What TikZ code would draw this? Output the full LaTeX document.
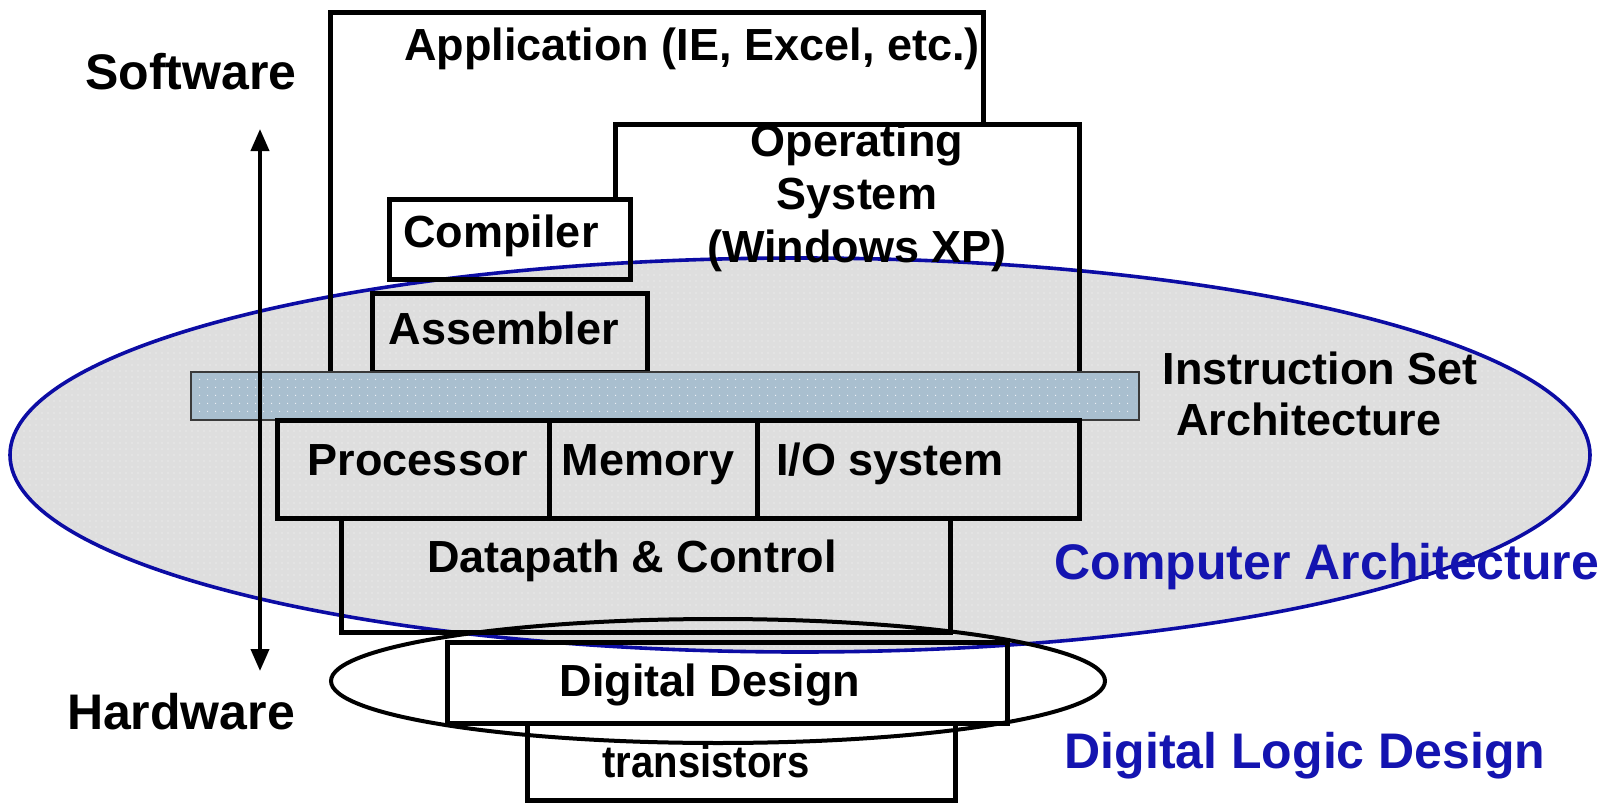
\documentclass[tikz,border=0pt]{standalone}
\usepackage{fontspec}
\setmainfont{Liberation Sans}
\usetikzlibrary{shapes.geometric,arrows.meta,patterns.meta}
\definecolor{archblue}{HTML}{0C0CA4}
\definecolor{labelblue}{HTML}{1414B0}
\definecolor{archgray}{HTML}{DEDEDE}
\definecolor{isafill}{HTML}{A9BFCF}
\definecolor{isaedge}{HTML}{3A3A3A}
\tikzset{
  layerbox/.style={draw=black, line width=2.5pt, inner sep=0pt, outer sep=0pt, rectangle},
  boxtext/.style={inner sep=0pt, font=\fontsize{22.5}{26.5}\selectfont\bfseries, align=center},
  sidetext/.style={inner sep=0pt, font=\fontsize{25}{30}\selectfont\bfseries},
  bluetext/.style={sidetext, text=labelblue},
}
\begin{document}
\begin{tikzpicture}[x=0.5pt, y=-0.5pt]
\useasboundingbox (0,0) rectangle (1619,803);

% large architecture ellipse, with a light speckle over the grey
\node[ellipse, fill=archgray, inner sep=0pt,
      minimum width=790pt, minimum height=197pt] (arch) at (800,455) {};
\fill[pattern={Dots[radius=0.3pt, distance=3pt]}, pattern color=white!70!archgray]
  (800,455) ellipse [x radius=393pt, y radius=96.5pt];
\draw[archblue, line width=1.8pt] (800,455) ellipse [x radius=395pt, y radius=98.5pt];
% small digital-logic ellipse
\node[ellipse, draw=black, line width=2pt, inner sep=0pt,
      minimum width=387pt, minimum height=62pt] (logic) at (718,681) {};

% software layers
\node[inner sep=0pt, outer sep=0pt, minimum width=326.5pt, minimum height=180pt] (app) at (656.5,192) {};
\node[boxtext] (apptxt) at (692,49) {Application (IE, Excel, etc.)};
\node[boxtext] (ostxt) at (857,198) {Operating\\System\\(Windows XP)};
\node[layerbox, minimum width=120.5pt, minimum height=40pt] (comp) at (509.5,239) {};
\node[inner sep=0pt, outer sep=0pt, minimum width=232pt, minimum height=124pt] (os) at (847,248) {};
\draw[line width=2.5pt] (app.south west) -- (app.north west) -- (app.north east) -- (app.north east |- os.north);
\draw[line width=2.5pt] (os.north west |- comp.north) -- (os.north west) -- (os.north east) -- (os.south east);
\node[boxtext] (comptxt) at (501,236) {Compiler};
\node[layerbox, minimum width=137.5pt, minimum height=39.5pt] (asm) at (509.5,332.5) {};
\node[boxtext] (asmtxt) at (504,328) {Assembler};

% instruction set bar
\node[rectangle, fill=isafill, draw=isaedge, line width=0.8pt, inner sep=0pt, outer sep=0pt,
      minimum width=474pt, minimum height=24pt] (isa) at (665,396) {};
\fill[pattern={Dots[radius=0.35pt, distance=4pt]}, pattern color=white!85!isafill]
  ([shift={(2pt,-2pt)}]isa.north west) rectangle ([shift={(-2pt,2pt)}]isa.south east);
\node[boxtext] (isatxtA) at (1320,368) {Instruction Set};
\node[boxtext] (isatxtB) at (1309,419) {Architecture};

% hardware layers
\node[layerbox, minimum width=136pt, minimum height=49pt] (proc) at (413,469) {};
\node[layerbox, minimum width=104pt, minimum height=49pt] (mem) at (653,469) {};
\node[layerbox, minimum width=161pt, minimum height=49pt] (io) at (918,469) {};
\node[boxtext, anchor=base] (proctxt) at (418,475) {Processor};
\node[boxtext, anchor=base] (memtxt) at (648,475) {Memory};
\node[boxtext, anchor=base] (iotxt) at (890,475) {I/O system};
\node[layerbox, minimum width=304.5pt, minimum height=57pt] (dp) at (645.5,575) {};
\node[boxtext] (dptxt) at (632,561) {Datapath \& Control};
\node[layerbox, minimum width=280pt, minimum height=40.5pt] (dd) at (727,682.5) {};
\node[boxtext] (ddtxt) at (710,685) {Digital Design};
\node[layerbox, minimum width=214pt, minimum height=38.5pt] (tr) at (741,761.5) {};
\node[boxtext, font=\fontsize{22.5}{26.5}\selectfont\bfseries\addfontfeature{FakeStretch=0.89}] (trtxt) at (706,761) {transistors};

% side labels and software/hardware axis
\node[sidetext] (sw) at (191,72) {Software};
\node[sidetext] (hw) at (181,712) {Hardware};
\coordinate (axtop) at (260,129);
\coordinate (axbot) at (260,671);
\draw[line width=2pt, {Triangle[length=11pt,width=9pt]}-{Triangle[length=11pt,width=9pt]}] (axbot) -- (axtop);

\node[bluetext] (archtxt) at (1327,567) {Computer Architecture};
\node[bluetext] (logictxt) at (1305,756) {Digital Logic Design};
\end{tikzpicture}
\end{document}
